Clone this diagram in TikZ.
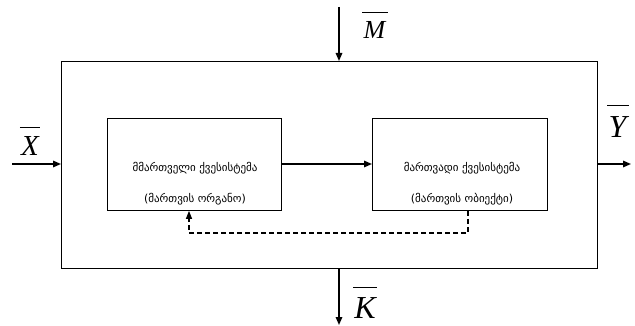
\documentclass[tikz,border=0pt]{standalone}
\usepackage{fontspec}
\setmainfont{Liberation Serif}
\newfontfamily\geo{DejaVu Sans}
\usetikzlibrary{arrows.meta}
\begin{document}
\begin{tikzpicture}[x=1pt,y=-1pt,
  box/.style={draw,line width=0.9pt},
  flow/.style={line width=1.5pt,-{Triangle[length=8pt,width=6.5pt]}},
  fb/.style={line width=1.2pt,dash pattern=on 5pt off 3pt,-{Triangle[length=8pt,width=6pt]}},
  lbl/.style={inner sep=0pt,font=\itshape},
  bar/.style={line width=0.9pt},
  gtxt/.style={font=\geo\fontsize{11}{11}\selectfont}]
\useasboundingbox (0,0) rectangle (635,326);
\draw[box] (61,61) rectangle (597,268);
\node[box,minimum width=174pt,minimum height=92pt,anchor=north west] (ctrl) at (107,118) {};
\node[box,minimum width=175pt,minimum height=92pt,anchor=north west] (obj) at (372,118) {};
\node[gtxt] (t1) at (195,168) {მმართველი ქვესისტემა};
\node[gtxt] (t2) at (195,199) {(მართვის ორგანო)};
\node[gtxt] (t3) at (462,168) {მართვადი ქვესისტემა};
\node[gtxt] (t4) at (462,199) {(მართვის ობიექტი)};
\coordinate (mtop) at (339,7);
\coordinate (mbot) at (339,61);
\coordinate (ktop) at (339,268);
\coordinate (kbot) at (339,325);
\coordinate (xl) at (12,164);
\coordinate (xr) at (61,164);
\coordinate (yl) at (597,164);
\coordinate (yr) at (631,164);
\draw[flow] (mtop) -- (mbot);
\draw[flow] (ktop) -- (kbot);
\draw[flow] (xl) -- (xr);
\draw[flow] (yl) -- (yr);
\draw[flow] (ctrl.east |- xl) -- (obj.west |- xl);
\draw[fb] (obj.south -| 468,0) -- (468,233) -- (189,233) -- (ctrl.south -| 189,0);
\node[lbl,font=\fontsize{26}{26}\selectfont\itshape] (M) at (374.5,29.5) {M};
\node[lbl,font=\fontsize{29}{29}\selectfont\itshape] (X) at (30,146.5) {X};
\node[lbl,font=\fontsize{32}{32}\selectfont\itshape] (Y) at (617.5,127.5) {Y};
\node[lbl,font=\fontsize{32}{32}\selectfont\itshape] (K) at (365,308.5) {K};
\draw[bar] ([yshift=8pt,xshift=-1pt]M.north west) -- ([yshift=8pt,xshift=2pt]M.north east);
\draw[bar] ([yshift=9pt,xshift=-1pt]X.north west) -- ([yshift=9pt,xshift=1pt]X.north east);
\draw[bar] ([yshift=11pt,xshift=-1pt]Y.north west) -- ([yshift=11pt,xshift=2pt]Y.north east);
\draw[bar] ([yshift=10pt,xshift=-1pt]K.north west) -- ([yshift=10pt,xshift=1pt]K.north east);
\end{tikzpicture}
\end{document}
